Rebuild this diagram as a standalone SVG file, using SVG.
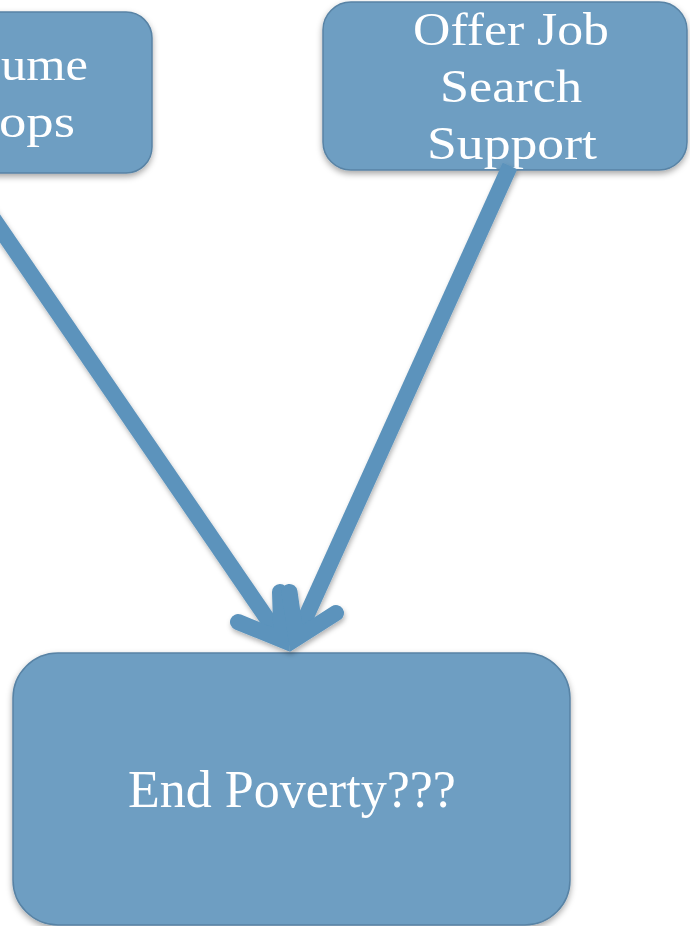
<svg xmlns="http://www.w3.org/2000/svg" width="690" height="926" viewBox="0 0 690 926">
<defs>
<filter id="sh" x="-20%" y="-20%" width="140%" height="140%">
<feDropShadow dx="0" dy="3" stdDeviation="3" flood-color="#000" flood-opacity="0.35"/>
</filter>
<filter id="sh2" x="-20%" y="-20%" width="140%" height="140%">
<feDropShadow dx="1" dy="3" stdDeviation="2.5" flood-color="#000" flood-opacity="0.3"/>
</filter>
</defs>
<style>
.box{fill:#6e9ec2;stroke:#5883a5;stroke-width:1.5;filter:url(#sh)}
.t{fill:#ffffff;font-family:"Liberation Serif","Times New Roman",serif;font-size:46px}
.tb{fill:#ffffff;font-family:"Liberation Serif","Times New Roman",serif;font-size:52px}
.shaft{fill:none;stroke:#5b93bc;stroke-width:16;stroke-linecap:butt}
.head{fill:none;stroke:#5b93bc;stroke-width:16;stroke-linecap:round;stroke-linejoin:miter;stroke-miterlimit:10}
</style>
<rect width="690" height="926" fill="#ffffff"/>
<g id="node-resume">
<rect class="box" x="-30" y="12" width="182" height="161" rx="26"/>
<text class="t" x="88" y="80" text-anchor="end" textLength="87" lengthAdjust="spacingAndGlyphs">ume</text>
<text class="t" x="75" y="137" text-anchor="end" textLength="76" lengthAdjust="spacingAndGlyphs">ops</text>
</g>
<g id="node-job">
<rect class="box" x="323" y="2" width="364" height="168" rx="28"/>
<text class="t" x="511" y="45" text-anchor="middle" textLength="196" lengthAdjust="spacingAndGlyphs">Offer Job</text>
<text class="t" x="511" y="102" text-anchor="middle" textLength="142" lengthAdjust="spacingAndGlyphs">Search</text>
<text class="t" x="512" y="159" text-anchor="middle" textLength="170" lengthAdjust="spacingAndGlyphs">Support</text>
</g>
<g id="node-end">
<rect class="box" x="13" y="653" width="557" height="272" rx="45"/>
<text class="tb" x="292" y="807" text-anchor="middle">End Poverty???</text>
</g>
<g id="connectors" filter="url(#sh2)">
<path class="shaft" d="M -40 170 L 281.5 639.7"/>
<path class="head" d="M 238 622 L 281.5 639.7 L 280 592"/>
<path class="shaft" d="M 510 166 L 296.2 638.4"/>
<path class="head" d="M 289.5 592 L 296.2 638.4 L 336 613"/>
</g>
</svg>
